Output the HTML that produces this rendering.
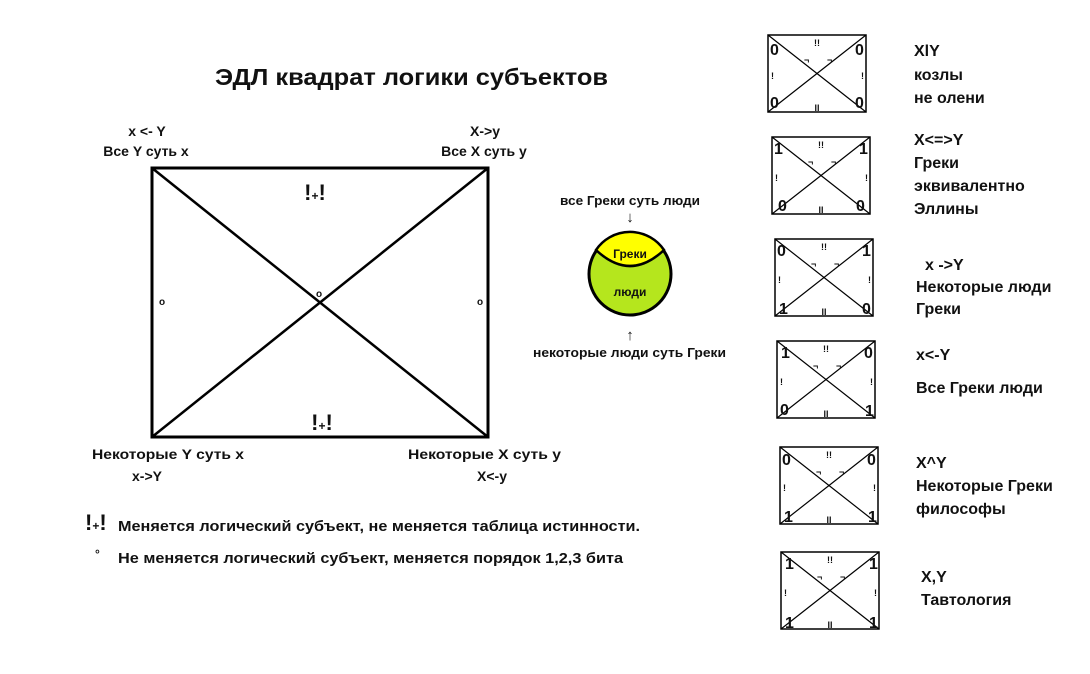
<!DOCTYPE html>
<html><head><meta charset="utf-8"><style>
html,body{margin:0;padding:0;background:#fff;width:1090px;height:674px;overflow:hidden}
text{font-family:"Liberation Sans","DejaVu Sans",sans-serif;font-weight:bold;fill:#111}
</style></head><body>
<svg width="1090" height="674" viewBox="0 0 1090 674" xmlns="http://www.w3.org/2000/svg">
<defs>
<g id="bx">
<rect x="0" y="0" width="98" height="77" fill="#fff" stroke="#000" stroke-width="1.5"/>
<line x1="0" y1="0" x2="98" y2="77" stroke="#000" stroke-width="1.2"/>
<line x1="98" y1="0" x2="0" y2="77" stroke="#000" stroke-width="1.2"/>
<text x="49" y="11" font-size="9" text-anchor="middle" font-weight="normal">!!</text>
<text x="3" y="44" font-size="9" font-weight="normal">!</text>
<text x="93" y="44" font-size="9" font-weight="normal">!</text>
<text x="49" y="76" font-size="9" text-anchor="middle" font-weight="normal">II</text>
<text x="36" y="28" font-size="9" font-weight="normal">¬</text>
<text x="59" y="28" font-size="9" font-weight="normal">¬</text>
</g>
</defs>
<text x="215" y="85" font-size="23" textLength="393" lengthAdjust="spacingAndGlyphs">ЭДЛ квадрат логики субъектов</text>
<text x="147" y="136" font-size="14" text-anchor="middle">x &lt;- Y</text>
<text x="146" y="156" font-size="14" text-anchor="middle">Все Y суть x</text>
<text x="485" y="136" font-size="14" text-anchor="middle">X-&gt;y</text>
<text x="484" y="156" font-size="14" text-anchor="middle">Все X суть y</text>
<rect x="152" y="168" width="336" height="269" fill="none" stroke="#000" stroke-width="3"/>
<line x1="152" y1="168" x2="488" y2="437" stroke="#000" stroke-width="2.5"/>
<line x1="488" y1="168" x2="152" y2="437" stroke="#000" stroke-width="2.5"/>
<text x="315" y="200" font-size="22" text-anchor="middle">!<tspan font-size="12">+</tspan>!</text>
<text x="322" y="430" font-size="22" text-anchor="middle">!<tspan font-size="12">+</tspan>!</text>
<text x="162" y="305" font-size="10" text-anchor="middle">o</text>
<text x="319" y="297" font-size="10" text-anchor="middle">o</text>
<text x="480" y="305" font-size="10" text-anchor="middle">o</text>
<text x="92" y="459" font-size="14" textLength="152" lengthAdjust="spacingAndGlyphs">Некоторые Y суть x</text>
<text x="147" y="481" font-size="14" text-anchor="middle">x-&gt;Y</text>
<text x="408" y="459" font-size="14" textLength="153" lengthAdjust="spacingAndGlyphs">Некоторые X суть y</text>
<text x="492" y="481" font-size="14" text-anchor="middle">X&lt;-y</text>
<text x="85" y="530" font-size="22">!<tspan font-size="12">+</tspan>!</text>
<text x="118" y="531" font-size="15" textLength="522" lengthAdjust="spacingAndGlyphs">Меняется логический субъект, не меняется таблица истинности.</text>
<text x="95" y="558" font-size="12">°</text>
<text x="118" y="563" font-size="15" textLength="505" lengthAdjust="spacingAndGlyphs">Не меняется логический субъект, меняется порядок 1,2,3 бита</text>
<text x="560" y="205" font-size="13" textLength="140" lengthAdjust="spacingAndGlyphs">все Греки суть люди</text>
<text x="630" y="222" font-size="15" text-anchor="middle">↓</text>
<circle cx="630" cy="274" r="41" fill="#b5e61d" stroke="#000" stroke-width="3"/>
<path d="M596 250 A41 41 0 0 1 664 250 Q630 282 596 250 Z" fill="#ffff00" stroke="#000" stroke-width="2.5"/>
<text x="630" y="258" font-size="12" text-anchor="middle">Греки</text>
<text x="630" y="296" font-size="12" text-anchor="middle">люди</text>
<text x="630" y="340" font-size="15" text-anchor="middle">↑</text>
<text x="533" y="357" font-size="13" textLength="193" lengthAdjust="spacingAndGlyphs">некоторые люди суть Греки</text>
<g transform="translate(768,35)"><use href="#bx"/><text x="2" y="20" font-size="16">0</text><text x="87" y="20" font-size="16">0</text><text x="2" y="73" font-size="16">0</text><text x="87" y="73" font-size="16">0</text></g>
<g transform="translate(772,137)"><use href="#bx"/><text x="2" y="17" font-size="16">1</text><text x="87" y="17" font-size="16">1</text><text x="6" y="74" font-size="16">0</text><text x="84" y="74" font-size="16">0</text></g>
<g transform="translate(775,239)"><use href="#bx"/><text x="2" y="17" font-size="16">0</text><text x="87" y="17" font-size="16">1</text><text x="4" y="75" font-size="16">1</text><text x="87" y="75" font-size="16">0</text></g>
<g transform="translate(777,341)"><use href="#bx"/><text x="4" y="17" font-size="16">1</text><text x="87" y="17" font-size="16">0</text><text x="3" y="74" font-size="16">0</text><text x="88" y="75" font-size="16">1</text></g>
<g transform="translate(780,447)"><use href="#bx"/><text x="2" y="18" font-size="16">0</text><text x="87" y="18" font-size="16">0</text><text x="4" y="75" font-size="16">1</text><text x="88" y="75" font-size="16">1</text></g>
<g transform="translate(781,552)"><use href="#bx"/><text x="4" y="17" font-size="16">1</text><text x="88" y="17" font-size="16">1</text><text x="4" y="76" font-size="16">1</text><text x="88" y="76" font-size="16">1</text></g>
<g font-size="16">
<text x="914" y="56">XlY</text><text x="914" y="80">козлы</text><text x="914" y="103">не олени</text>
<text x="914" y="145">X&lt;=&gt;Y</text><text x="914" y="168">Греки</text><text x="914" y="191">эквивалентно</text><text x="914" y="214">Эллины</text>
<text x="925" y="270">x -&gt;Y</text><text x="916" y="292">Некоторые люди</text><text x="916" y="314">Греки</text>
<text x="916" y="360">x&lt;-Y</text><text x="916" y="393">Все Греки люди</text>
<text x="916" y="468">X^Y</text><text x="916" y="491">Некоторые Греки</text><text x="916" y="514">философы</text>
<text x="921" y="582">X,Y</text><text x="921" y="605">Тавтология</text>
</g>
</svg>
</body></html>
